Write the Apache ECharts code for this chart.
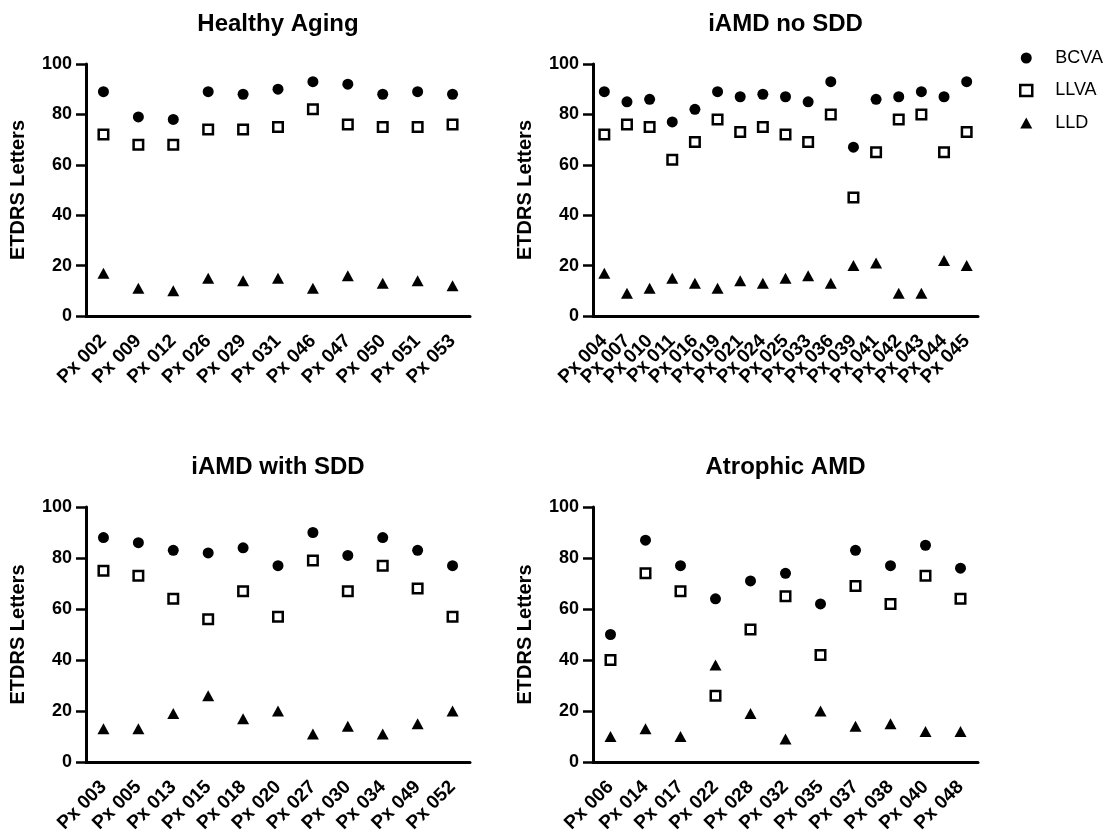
<!DOCTYPE html>
<html>
<head>
<meta charset="utf-8">
<script src="https://cdn.jsdelivr.net/npm/echarts@6/dist/echarts.min.js"></script>
<style>
    html, body {margin: 0; padding: 0; background: #fff;}
    #main {width: 1113px; height: 834px;}
</style>
</head>
<body>
<div id="main"></div>
<script>
// panel titles
var titles = ['Healthy Aging', 'iAMD no SDD', 'iAMD with SDD', 'Atrophic AMD'];
var seriesNames = ['BCVA', 'LLVA', 'LLD'];
var yTicks = [0, 20, 40, 60, 80, 100];

// Healthy Aging
var haPx   = ['Px 002','Px 009','Px 012','Px 026','Px 029','Px 031','Px 046','Px 047','Px 050','Px 051','Px 053'];
var haBcva = [89, 79, 78, 89, 88, 90, 93, 92, 88, 89, 88];
var haLlva = [72, 68, 68, 74, 74, 75, 82, 76, 75, 75, 76];
var haLld  = [17, 11, 10, 15, 14, 15, 11, 16, 13, 14, 12];

// iAMD no SDD
var noPx   = ['Px 004','Px 007','Px 010','Px 011','Px 016','Px 019','Px 021','Px 024','Px 025','Px 033','Px 036','Px 039','Px 041','Px 042','Px 043','Px 044','Px 045'];
var noBcva = [89, 85, 86, 77, 82, 89, 87, 88, 87, 85, 93, 67, 86, 87, 89, 87, 93];
var noLlva = [72, 76, 75, 62, 69, 78, 73, 75, 72, 69, 80, 47, 65, 78, 80, 65, 73];
var noLld  = [17, 9, 11, 15, 13, 11, 14, 13, 15, 16, 13, 20, 21, 9, 9, 22, 20];

// iAMD with SDD
var sddPx   = ['Px 003','Px 005','Px 013','Px 015','Px 018','Px 020','Px 027','Px 030','Px 034','Px 049','Px 052'];
var sddBcva = [88, 86, 83, 82, 84, 77, 90, 81, 88, 83, 77];
var sddLlva = [75, 73, 64, 56, 67, 57, 79, 67, 77, 68, 57];
var sddLld  = [13, 13, 19, 26, 17, 20, 11, 14, 11, 15, 20];

// Atrophic AMD
var atPx   = ['Px 006','Px 014','Px 017','Px 022','Px 028','Px 032','Px 035','Px 037','Px 038','Px 040','Px 048'];
var atBcva = [50, 87, 77, 64, 71, 74, 62, 83, 77, 85, 76];
var atLlva = [40, 74, 67, 26, 52, 65, 42, 69, 62, 73, 64];
var atLld  = [10, 13, 10, 38, 19, 9, 20, 14, 15, 12, 12];

var panels = [
    {px: haPx,  vals: [haBcva,  haLlva,  haLld]},
    {px: noPx,  vals: [noBcva,  noLlva,  noLld]},
    {px: sddPx, vals: [sddBcva, sddLlva, sddLld]},
    {px: atPx,  vals: [atBcva,  atLlva,  atLld]}
];

var FONT = "'Liberation Sans', Arial, sans-serif";

// grid boxes (left, top, width, height)
var boxes = [
    [86, 64, 384, 252],
    [593, 64, 385, 252],
    [86, 507, 384, 255],
    [593, 507, 385, 255]
];

// marker styles per measure
var markStyles = [
    {symbol: 'circle',   symbolSize: 11, itemStyle: {color: '#000', opacity: 1}},
    {symbol: 'rect',     symbolSize: 9.5, itemStyle: {color: '#fff', borderColor: '#000', borderWidth: 2.5, opacity: 1}},
    {symbol: 'triangle', symbolSize: [12, 11], itemStyle: {color: '#000', opacity: 1}}
];

var grid = [], xAxis = [], yAxis = [], series = [], title = [];
for (var i = 0; i < panels.length; i++) {
    var b = boxes[i];
    grid.push({left: b[0], top: b[1], width: b[2], height: b[3], outerBoundsMode: 'none', containLabel: false});
    title.push({
        text: titles[i],
        left: b[0] + b[2] / 2,
        top: b[1] - 52,
        textAlign: 'center',
        padding: 0,
        textStyle: {fontFamily: FONT, fontSize: 24, fontWeight: 'bold', color: '#000'}
    });
    xAxis.push({
        type: 'category',
        gridIndex: i,
        data: panels[i].px,
        boundaryGap: true,
        axisLine: {lineStyle: {color: '#000', width: 3}},
        axisTick: {alignWithLabel: true, length: 10, lineStyle: {color: '#000', width: 2.5}},
        axisLabel: {
            interval: 0, rotate: 45, margin: 22, hideOverlap: false,
            fontFamily: FONT, fontSize: 19, fontWeight: 'bold', color: '#000'
        },
        splitLine: {show: false}
    });
    yAxis.push({
        type: 'value',
        gridIndex: i,
        min: yTicks[0],
        max: yTicks[yTicks.length - 1],
        interval: 20,
        name: 'ETDRS Letters',
        nameLocation: 'middle',
        nameRotate: 90,
        nameGap: 58,
        nameTextStyle: {fontFamily: FONT, fontSize: 20, fontWeight: 'bold', color: '#000'},
        axisLine: {show: true, lineStyle: {color: '#000', width: 3}},
        axisTick: {show: true, length: 10, lineStyle: {color: '#000', width: 2.5}},
        axisLabel: {margin: 14, fontFamily: FONT, fontSize: 18, fontWeight: 'bold', color: '#000'},
        splitLine: {show: false}
    });
    for (var k = 0; k < seriesNames.length; k++) {
        series.push({
            type: 'scatter',
            name: seriesNames[k],
            xAxisIndex: i,
            yAxisIndex: i,
            data: panels[i].vals[k],
            symbol: markStyles[k].symbol,
            symbolSize: markStyles[k].symbolSize,
            itemStyle: markStyles[k].itemStyle,
            emphasis: {disabled: true},
            z: 3 - k
        });
    }
}

var myChart = echarts.init(document.getElementById('main'), null, {renderer: 'canvas'});
var option = {
    animation: false,
    backgroundColor: '#fff',
    title: title,
    legend: {
        orient: 'vertical',
        left: 1014,
        top: 44,
        itemWidth: 12,
        itemHeight: 11,
        itemGap: 14.5,
        data: [
            {name: 'BCVA', icon: 'circle', itemStyle: {color: '#000', opacity: 1}},
            {name: 'LLVA', icon: 'rect', itemStyle: {color: '#fff', borderColor: '#000', borderWidth: 2.5, opacity: 1}},
            {name: 'LLD', icon: 'triangle', itemStyle: {color: '#000', opacity: 1}}
        ],
        textStyle: {fontFamily: FONT, fontSize: 18, color: '#000', padding: [0, 0, 0, 18]}
    },
    grid: grid,
    xAxis: xAxis,
    yAxis: yAxis,
    series: series
};
myChart.setOption(option);
</script>
</body>
</html>
